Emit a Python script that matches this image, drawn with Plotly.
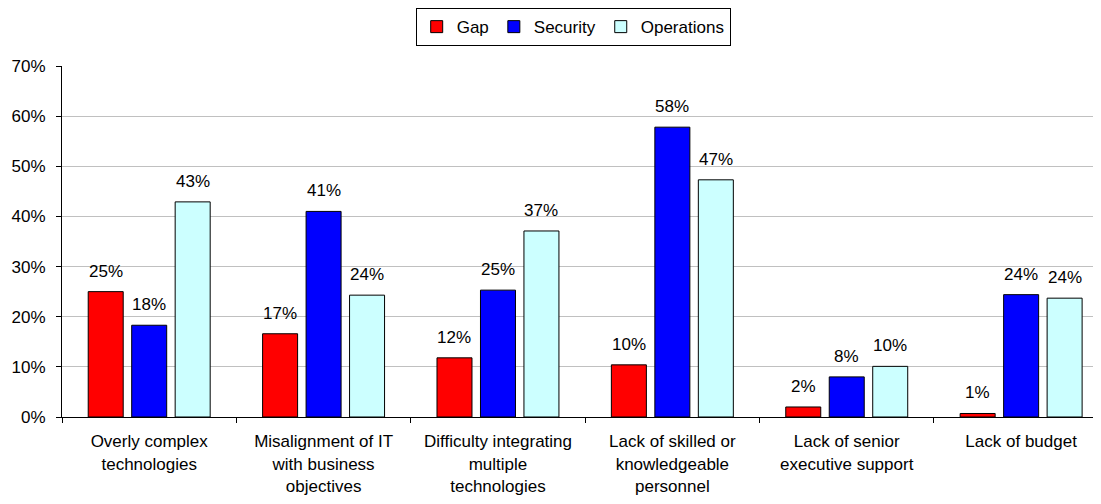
import plotly.graph_objects as go

CATEGORIES = [
    "Overly complex<br>technologies",
    "Misalignment of IT<br>with business<br>objectives",
    "Difficulty integrating<br>multiple<br>technologies",
    "Lack of skilled or<br>knowledgeable<br>personnel",
    "Lack of senior<br>executive support",
    "Lack of budget",
]

GAP = [25.0, 16.6, 11.8, 10.4, 2.0, 0.7]
SECURITY = [18.3, 41.0, 25.3, 57.8, 8.0, 24.4]
OPERATIONS = [42.9, 24.3, 37.1, 47.3, 10.1, 23.7]

SERIES = [
    ("Gap", GAP, "#FF0000"),
    ("Security", SECURITY, "#0000FF"),
    ("Operations", OPERATIONS, "#CCFFFF"),
]

FONT = "Liberation Sans, Arial, sans-serif"
SLOT_PX = 43.5  # horizontal distance between bars inside a group

fig = go.Figure()
annotations = []
for j, (name, vals, color) in enumerate(SERIES):
    fig.add_trace(go.Bar(
        name=name, x=CATEGORIES, y=vals,
        marker=dict(color=color, line=dict(color="black", width=1)),
    ))
    for cat, v in zip(CATEGORIES, vals):
        annotations.append(dict(
            x=cat, y=v, text=f"{round(v):.0f}%", showarrow=False,
            xref="x", yref="y", yanchor="bottom",
            xshift=(j - 1) * SLOT_PX, yshift=9,
            font=dict(family=FONT, size=17, color="black"),
        ))

# the page body adds an 8px offset, so the figure is a bit smaller than the window
fig.update_layout(
    width=1093, height=496,
    margin=dict(l=54, r=0, t=58, b=87, autoexpand=False),
    paper_bgcolor="white", plot_bgcolor="white",
    font=dict(family=FONT, size=17, color="black"),
    barmode="group", bargap=0.252, bargroupgap=0.195,
    annotations=annotations,
    legend=dict(
        orientation="h", x=0.492, xanchor="center", y=1.165, yanchor="top",
        bordercolor="black", borderwidth=1, itemwidth=30, tracegroupgap=0,
        font=dict(family=FONT, size=17),
    ),
)
fig.update_xaxes(
    range=[-0.5, 5.458], showline=True, linecolor="black", linewidth=1,
    ticks="outside", tickson="boundaries", ticklen=5, tickcolor="black",
    showgrid=False, automargin=False, ticklabelstandoff=9,
)
fig.update_yaxes(
    range=[0, 70], dtick=10, ticksuffix="%", showline=True, linecolor="black",
    linewidth=1, ticks="outside", ticklen=5, tickcolor="black",
    gridcolor="#C0C0C0", gridwidth=1, zeroline=False, automargin=False,
    ticklabelstandoff=7,
)

fig.write_html("out.html")
